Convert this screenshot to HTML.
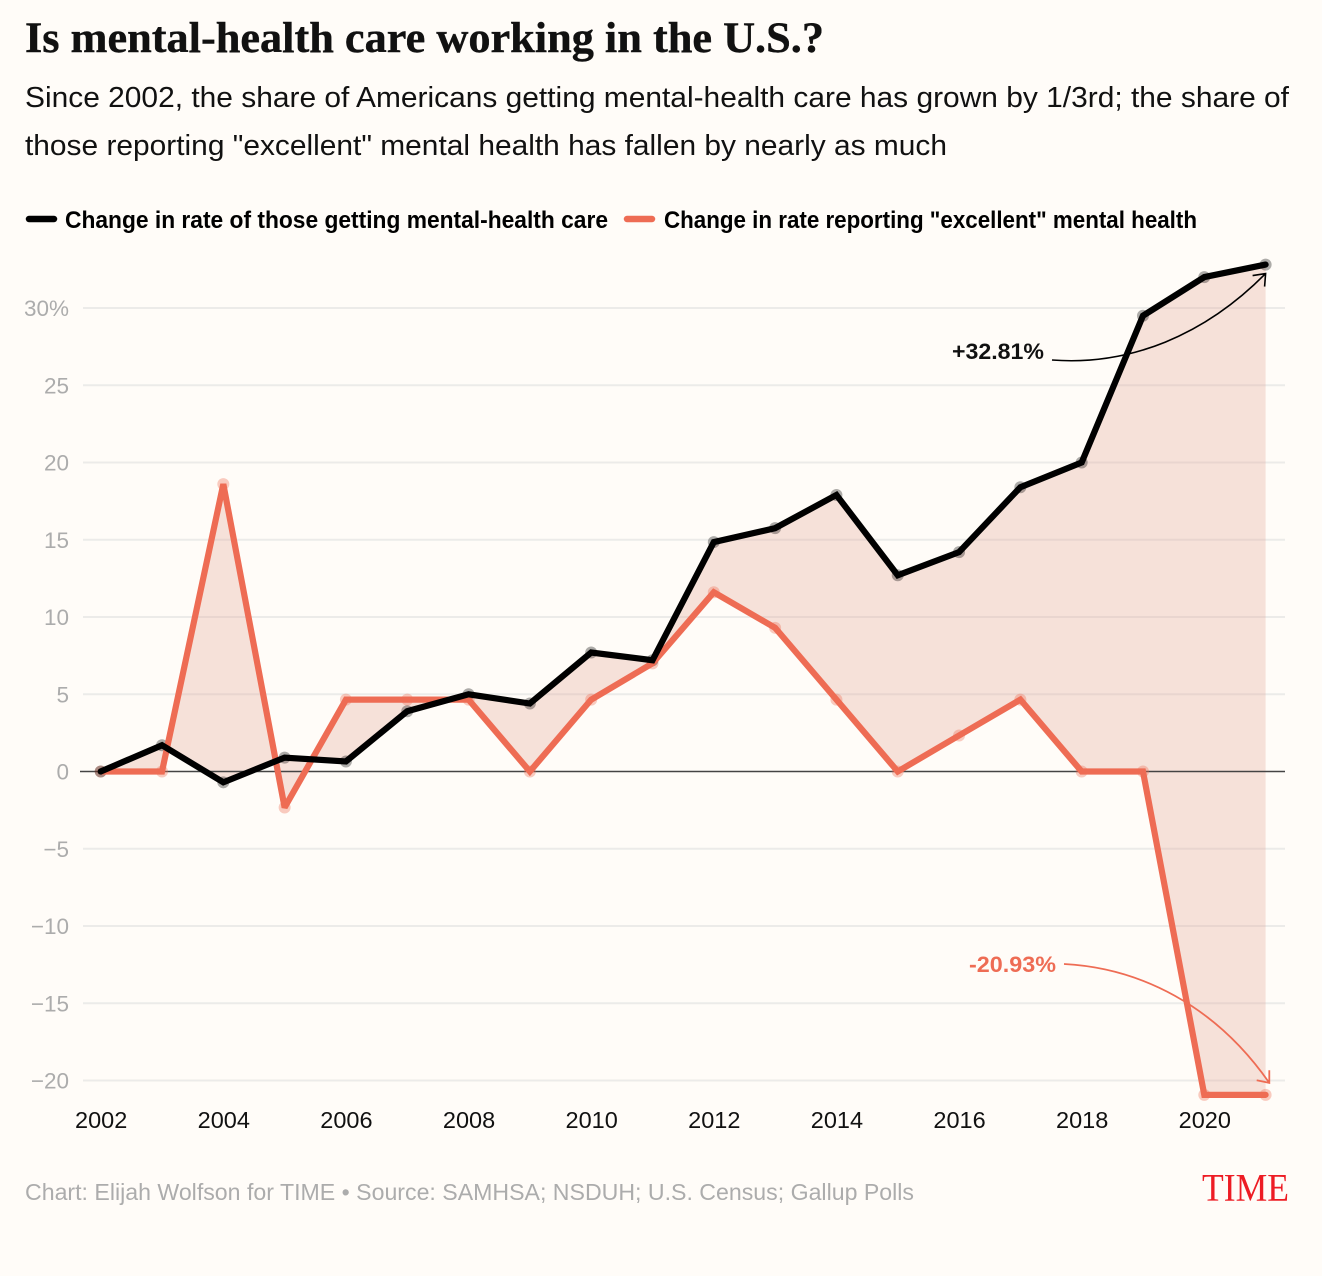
<!DOCTYPE html>
<html lang="en">
<head>
<meta charset="utf-8">
<title>Is mental-health care working in the U.S.?</title>
<style>
html,body{margin:0;padding:0;background:#fffcf8;}
svg{display:block;}
text{font-family:"Liberation Sans",sans-serif;}
</style>
</head>
<body>
<svg id="chart" xmlns="http://www.w3.org/2000/svg" width="1322" height="1276" viewBox="0 0 1322 1276">
  <rect x="0" y="0" width="1322" height="1276" fill="#fffcf8"/>
  <text x="25" y="52" font-size="43" font-weight="700" fill="#111" stroke="#111" stroke-width="0.4" textLength="799" lengthAdjust="spacingAndGlyphs" style="font-family:'Liberation Serif',serif">Is mental-health care working in the U.S.?</text>
  <text x="25" y="107" font-size="29" fill="#111" textLength="1264" lengthAdjust="spacingAndGlyphs">Since 2002, the share of Americans getting mental-health care has grown by 1/3rd; the share of</text>
  <text x="25" y="155" font-size="29" fill="#111" textLength="922" lengthAdjust="spacingAndGlyphs">those reporting "excellent" mental health has fallen by nearly as much</text>

  <line x1="29" y1="219" x2="54" y2="219" stroke="#000" stroke-width="6.5" stroke-linecap="round"/>
  <text x="65" y="228" font-size="24" font-weight="700" fill="#000" textLength="543" lengthAdjust="spacingAndGlyphs">Change in rate of those getting mental-health care</text>
  <line x1="627" y1="219" x2="652" y2="219" stroke="#ee6c54" stroke-width="6.5" stroke-linecap="round"/>
  <text x="664" y="228" font-size="24" font-weight="700" fill="#000" textLength="533" lengthAdjust="spacingAndGlyphs">Change in rate reporting "excellent" mental health</text>

  <g id="grid"></g>
  <path id="area" fill="#e3a897" fill-opacity="0.32" stroke="none"/>
  <g id="zero"></g>
  <g id="dots"></g>
  <path id="line-excellent" fill="none" stroke="#ee6c54" stroke-width="6.2" stroke-linejoin="miter" stroke-miterlimit="2" stroke-linecap="round"/>
  <path id="line-care" fill="none" stroke="#000" stroke-width="6.2" stroke-linejoin="miter" stroke-miterlimit="2" stroke-linecap="round"/>
  <g id="xlabels"></g>

  <text x="952" y="359" font-size="22" font-weight="700" fill="#111" textLength="92" lengthAdjust="spacingAndGlyphs">+32.81%</text>
  <path id="arrow-care" fill="none" stroke="#000" stroke-width="1.6"/>
  <text x="969" y="972" font-size="22" font-weight="700" fill="#ee6c54" textLength="87" lengthAdjust="spacingAndGlyphs">-20.93%</text>
  <path id="arrow-excellent" fill="none" stroke="#ee6c54" stroke-width="1.8"/>

  <text x="25" y="1200" font-size="23" fill="#acacac" textLength="889" lengthAdjust="spacingAndGlyphs">Chart: Elijah Wolfson for TIME • Source: SAMHSA; NSDUH; U.S. Census; Gallup Polls</text>
  <text x="1202" y="1200.5" font-size="39" fill="#ed1c24" textLength="87" lengthAdjust="spacingAndGlyphs" style="font-family:'Liberation Serif',serif">TIME</text>
</svg>
<script>
var years = [2002,2003,2004,2005,2006,2007,2008,2009,2010,2011,2012,2013,2014,2015,2016,2017,2018,2019,2020,2021];
var careValues = [0,1.7,-0.7,0.9,0.65,3.9,5,4.4,7.7,7.2,14.85,15.75,17.9,12.7,14.2,18.4,20,29.5,32,32.81];
var excellentValues = [0,0,18.6,-2.33,4.65,4.65,4.65,0,4.65,7,11.6,9.3,4.65,0,2.33,4.65,0,0,-20.93,-20.93];
var yTicks = [30,25,20,15,10,5,0,-5,-10,-15,-20];
var xTicks = [2002,2004,2006,2008,2010,2012,2014,2016,2018,2020];

var NS = 'http://www.w3.org/2000/svg';
function xScale(year){ return 100.7 + (year - 2002) * (1265.6 - 100.7) / 19; }
function yScale(v){ return 771.5 - v * 15.45; }
function make(tag, attrs, parent){
  var el = document.createElementNS(NS, tag);
  for (var k in attrs) el.setAttribute(k, attrs[k]);
  parent.appendChild(el);
  return el;
}
function pathOf(values){
  return values.map(function(v,i){ return (i ? 'L' : 'M') + xScale(years[i]).toFixed(2) + ' ' + yScale(v).toFixed(2); }).join(' ');
}

var grid = document.getElementById('grid');
var zero = document.getElementById('zero');
yTicks.forEach(function(t){
  var y = yScale(t);
  if (t !== 0) {
    var gl = make('line', {x1:83, x2:1285, y1:y, y2:y, stroke:'#ecebe9', 'stroke-width':2}, grid);
    
    
  } else {
    var zl = make('line', {x1:80, x2:1285, y1:y, y2:y, stroke:'#444', 'stroke-width':1.5}, zero);
    
    
  }
  var lab = make('text', {x:69, y:y + 8, 'text-anchor':'end', 'font-size':22.5, fill:'#acacac'}, grid);
  
  
  lab.textContent = t === 30 ? '30%' : (t < 0 ? '\u2212' + Math.abs(t) : String(t));
});

var xl = document.getElementById('xlabels');
xTicks.forEach(function(yr){
  var lab = make('text', {x:xScale(yr) + 0.5, y:1128, 'text-anchor':'middle', 'font-size':23.5, fill:'#111'}, xl);
  
  
  lab.textContent = String(yr);
});

var reversed = excellentValues.map(function(v,i){ return 'L' + xScale(years[i]).toFixed(2) + ' ' + yScale(v).toFixed(2); }).reverse().join(' ');
document.getElementById('area').setAttribute('d', pathOf(careValues) + ' ' + reversed + ' Z');
document.getElementById('line-care').setAttribute('d', pathOf(careValues));
document.getElementById('line-excellent').setAttribute('d', pathOf(excellentValues));

var dots = document.getElementById('dots');
excellentValues.forEach(function(v,i){
  var c = make('circle', {cx:xScale(years[i]), cy:yScale(v), r:6, fill:'#ee6c54', 'fill-opacity':0.35}, dots);
  
  
});
careValues.forEach(function(v,i){
  var c = make('circle', {cx:xScale(years[i]), cy:yScale(v), r:6, fill:'#000', 'fill-opacity':0.32}, dots);
  
  
});

var lastX = xScale(years[years.length - 1]);
var careEnd = yScale(careValues[careValues.length - 1]) + 9;
document.getElementById('arrow-care').setAttribute('d',
  'M1052 360 C1130 366 1205 335 ' + lastX + ' ' + careEnd +
  ' M' + (lastX - 13) + ' ' + (careEnd + 2) + ' L' + lastX + ' ' + careEnd + ' L' + (lastX - 1) + ' ' + (careEnd + 13));
var exEndX = lastX + 3.7;
var exEnd = yScale(excellentValues[excellentValues.length - 1]) - 12;
document.getElementById('arrow-excellent').setAttribute('d',
  'M1064 964 C1140 968 1215 1005 ' + exEndX + ' ' + exEnd +
  ' M' + (exEndX - 12.6) + ' ' + (exEnd - 2.6) + ' L' + exEndX + ' ' + exEnd + ' L' + exEndX + ' ' + (exEnd - 12.6));
</script>
</body>
</html>
